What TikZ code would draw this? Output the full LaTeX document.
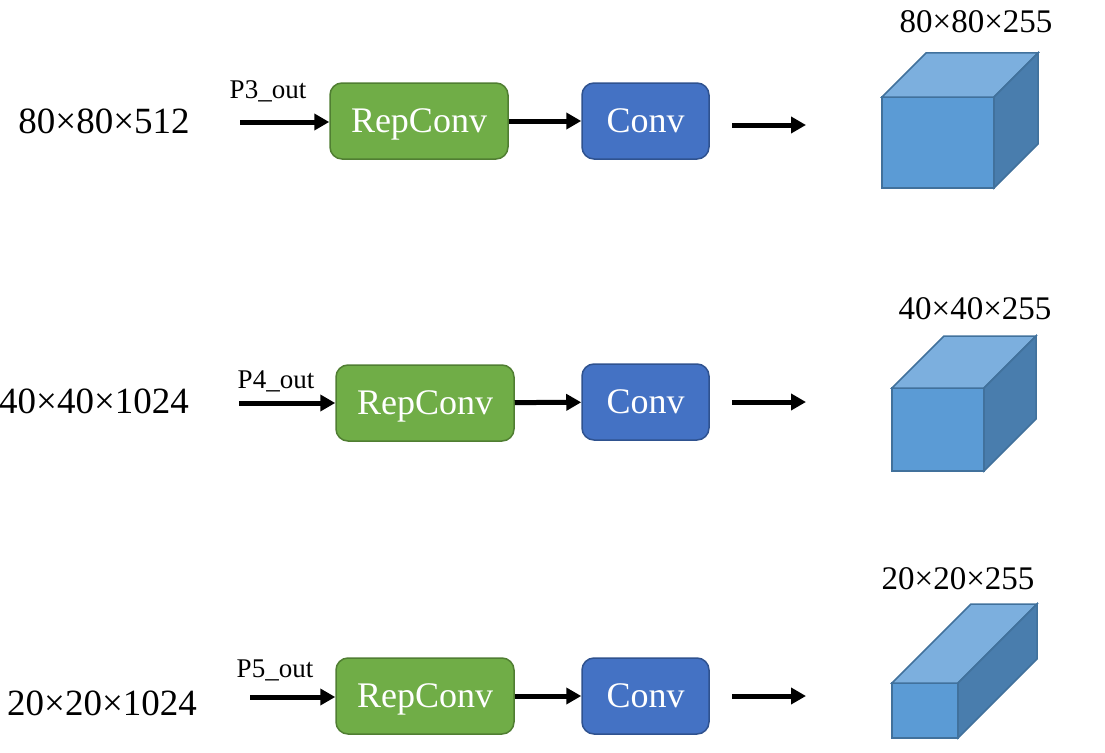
\documentclass[tikz,border=0pt]{standalone}
\usepackage{fontspec}
\setmainfont{Liberation Serif}
\usepackage{xcolor}
\usetikzlibrary{arrows.meta}

\definecolor{repgreen}{HTML}{70AD47}
\definecolor{repedge}{HTML}{507E32}
\definecolor{convblue}{HTML}{4472C4}
\definecolor{convedge}{HTML}{2F528F}
\definecolor{cubefront}{HTML}{5B9BD5}
\definecolor{cubetop}{HTML}{7CAFDE}
\definecolor{cubeside}{HTML}{497DAD}
\definecolor{cubeedge}{HTML}{41719C}

% output cube: front corner x, y, width, height, depth
\newcommand{\featcube}[5]{%
  \filldraw[cubeline, fill=cubefront] (#1,#2) rectangle ++(#3,#4);
  \filldraw[cubeline, fill=cubetop] (#1,#2) -- ++(#5,-#5) -- ++(#3,0) -- ++(-#5,#5) -- cycle;
  \filldraw[cubeline, fill=cubeside] (#1+#3,#2) -- ++(#5,-#5) -- ++(0,#4) -- ++(-#5,#5) -- cycle;
}

\begin{document}
\begin{tikzpicture}[x=1pt, y=-1pt,
    repbox/.style={draw=repedge, fill=repgreen, line width=1.5pt, rounded corners=12pt,
      minimum width=178pt, minimum height=76pt, inner sep=0pt, text=white, text depth=0pt,
      font=\fontsize{36}{40}\selectfont},
    convbox/.style={draw=convedge, fill=convblue, line width=1.5pt, rounded corners=12pt,
      minimum width=127pt, minimum height=76pt, inner sep=0pt, text=white, text depth=0pt,
      font=\fontsize{36}{40}\selectfont},
    flow/.style={line width=5pt, -{Triangle[length=15pt,width=16pt]}},
    cubeline/.style={draw=cubeedge, line width=1.5pt},
    sizelabel/.style={anchor=base, inner sep=0pt, font=\fontsize{37}{40}\selectfont},
    outlabel/.style={anchor=base, inner sep=0pt, font=\fontsize{33}{36}\selectfont},
    plabel/.style={anchor=base, inner sep=0pt, font=\fontsize{27}{30}\selectfont}]

    \useasboundingbox (0,0) rectangle (1105,752);

    % P3 branch
    \node[sizelabel] (in3size) at (104,133) {80×80×512};
    \node[plabel] (p3) at (268,98) {P3\_out};
    \coordinate (in3) at (240,122);
    \node[repbox] (rep3) at (419,121) {RepConv};
    \node[convbox] (conv3) at (645.5,121) {Conv};
    \coordinate (out3a) at (732,125);
    \coordinate (out3b) at (806,125);
    \draw[flow] (in3) -- (in3 -| rep3.west);
    \draw[flow] (rep3) -- (conv3);
    \draw[flow] (out3a) -- (out3b);
    \featcube{882}{97}{112}{91}{44}
    \node[outlabel] (out3size) at (976,33) {80×80×255};

    % P4 branch
    \node[sizelabel] (in4size) at (94,413) {40×40×1024};
    \node[plabel] (p4) at (276,388) {P4\_out};
    \coordinate (in4) at (239,403);
    \node[repbox] (rep4) at (425,403) {RepConv};
    \node[convbox] (conv4) at (645.5,402) {Conv};
    \coordinate (out4a) at (732,402);
    \coordinate (out4b) at (806,402);
    \draw[flow] (in4) -- (in4 -| rep4.west);
    \draw[flow] (rep4) -- (conv4);
    \draw[flow] (out4a) -- (out4b);
    \featcube{892}{388}{92}{83}{52}
    \node[outlabel] (out4size) at (975,319) {40×40×255};

    % P5 branch
    \node[sizelabel] (in5size) at (102,715) {20×20×1024};
    \node[plabel] (p5) at (275,677) {P5\_out};
    \coordinate (in5) at (250,697);
    \node[repbox] (rep5) at (425,696) {RepConv};
    \node[convbox] (conv5) at (645.5,696) {Conv};
    \coordinate (out5a) at (732,696);
    \coordinate (out5b) at (806,696);
    \draw[flow] (in5) -- (in5 -| rep5.west);
    \draw[flow] (rep5) -- (conv5);
    \draw[flow] (out5a) -- (out5b);
    \featcube{892}{683}{66}{55}{79}
    \node[outlabel] (out5size) at (958,589) {20×20×255};

\end{tikzpicture}
\end{document}
